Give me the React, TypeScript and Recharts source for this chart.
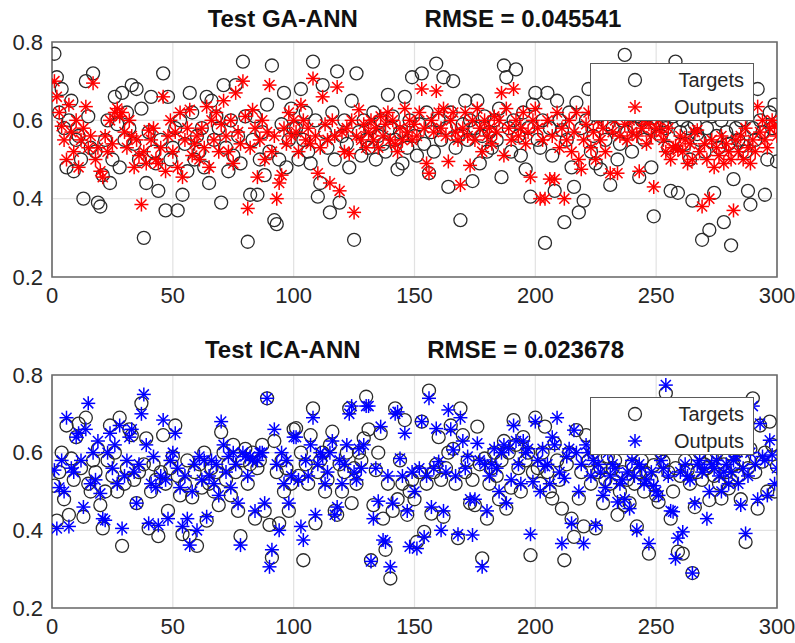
import React from 'react';
import { ScatterChart, Scatter, XAxis, YAxis, CartesianGrid, ReferenceArea, Legend } from 'recharts';

const xTicks = [0, 50, 100, 150, 200, 250, 300];
const yTicks = [0.2, 0.4, 0.6, 0.8];

const gaTitle = 'Test GA-ANN          RMSE = 0.045541';
const icaTitle = 'Test ICA-ANN          RMSE = 0.023678';

// GA-ANN test set
const gaTargets = [
  0.77, 0.71, 0.62, 0.68, 0.58, 0.48, 0.6, 0.65, 0.47, 0.55,
  0.56, 0.5, 0.4, 0.7, 0.61, 0.53, 0.72, 0.52, 0.39, 0.38,
  0.46, 0.55, 0.6, 0.44, 0.5, 0.66, 0.59, 0.48, 0.67, 0.55,
  0.62, 0.58, 0.69, 0.54, 0.68, 0.5, 0.63, 0.3, 0.44, 0.57,
  0.66, 0.52, 0.49, 0.42, 0.55, 0.72, 0.37, 0.66, 0.5, 0.53,
  0.58, 0.37, 0.6, 0.41, 0.54, 0.47, 0.67, 0.62, 0.5, 0.56,
  0.52, 0.58, 0.48, 0.66, 0.44, 0.65, 0.55, 0.61, 0.58, 0.39,
  0.69, 0.53, 0.47, 0.6, 0.51, 0.69, 0.56, 0.49, 0.75, 0.61,
  0.29, 0.41, 0.55, 0.61, 0.41, 0.5, 0.57, 0.46, 0.64, 0.52,
  0.74, 0.345, 0.335, 0.5, 0.59, 0.67, 0.48, 0.55, 0.63, 0.58,
  0.58, 0.5, 0.68, 0.55, 0.62, 0.52, 0.49, 0.75, 0.6, 0.405,
  0.44, 0.69, 0.57, 0.53, 0.365, 0.62, 0.5, 0.725, 0.39, 0.56,
  0.6, 0.54, 0.48, 0.65, 0.295, 0.72, 0.57, 0.51, 0.6, 0.55,
  0.53, 0.58, 0.62, 0.5, 0.56, 0.6, 0.54, 0.52, 0.665, 0.58,
  0.61, 0.55, 0.475, 0.57, 0.49, 0.66, 0.53, 0.6, 0.71, 0.56,
  0.51, 0.59, 0.72, 0.54, 0.62, 0.465, 0.57, 0.52, 0.745, 0.6,
  0.55, 0.71, 0.58, 0.43, 0.62, 0.7, 0.53, 0.56, 0.345, 0.59,
  0.65, 0.55, 0.6, 0.445, 0.58, 0.65, 0.49, 0.56, 0.61, 0.52,
  0.57, 0.53, 0.6, 0.55, 0.63, 0.455, 0.74, 0.71, 0.58, 0.52,
  0.6, 0.73, 0.56, 0.51, 0.62, 0.475, 0.58, 0.405, 0.64, 0.67,
  0.55, 0.53, 0.6, 0.287, 0.67, 0.58, 0.51, 0.42, 0.65, 0.6,
  0.575, 0.34, 0.55, 0.62, 0.48, 0.43, 0.645, 0.365, 0.58, 0.395,
  0.6, 0.68, 0.52, 0.56, 0.49, 0.61, 0.475, 0.63, 0.55, 0.59,
  0.435, 0.58, 0.62, 0.5, 0.54, 0.6, 0.767, 0.57, 0.63, 0.52,
  0.58, 0.61, 0.455, 0.6, 0.55, 0.63, 0.58, 0.48, 0.355, 0.59,
  0.62, 0.56, 0.6, 0.58, 0.53, 0.42, 0.61, 0.75, 0.415, 0.57,
  0.6, 0.54, 0.58, 0.5, 0.395, 0.59, 0.565, 0.55, 0.295, 0.52,
  0.58, 0.32, 0.61, 0.415, 0.56, 0.53, 0.6, 0.34, 0.57, 0.54,
  0.281, 0.45, 0.58, 0.55, 0.6, 0.535, 0.52, 0.42, 0.385, 0.58,
  0.55, 0.68, 0.6, 0.57, 0.41, 0.5, 0.62, 0.58, 0.64, 0.495,
];

const gaOutputs = [
  0.7, 0.66, 0.62, 0.585, 0.55, 0.5, 0.64, 0.57, 0.52, 0.6,
  0.48, 0.55, 0.58, 0.635, 0.53, 0.56, 0.695, 0.5, 0.53, 0.47,
  0.455, 0.56, 0.52, 0.6, 0.54, 0.62, 0.63, 0.61, 0.62, 0.57,
  0.53, 0.6, 0.56, 0.48, 0.55, 0.51, 0.385, 0.52, 0.49, 0.575,
  0.55, 0.58, 0.5, 0.49, 0.53, 0.66, 0.47, 0.56, 0.6, 0.52,
  0.57, 0.48, 0.62, 0.455, 0.55, 0.58, 0.627, 0.51, 0.54, 0.56,
  0.5, 0.58, 0.53, 0.635, 0.48, 0.6, 0.55, 0.62, 0.52, 0.59,
  0.65, 0.56, 0.52, 0.6, 0.49, 0.67, 0.57, 0.54, 0.7, 0.61,
  0.375, 0.53, 0.627, 0.58, 0.455, 0.55, 0.6, 0.5, 0.57, 0.69,
  0.52, 0.56, 0.4, 0.44, 0.46, 0.58, 0.54, 0.62, 0.56, 0.6,
  0.57, 0.52, 0.64, 0.6, 0.55, 0.58, 0.54, 0.707, 0.56, 0.465,
  0.53, 0.66, 0.59, 0.55, 0.44, 0.6, 0.56, 0.685, 0.42, 0.57,
  0.52, 0.58, 0.515, 0.6, 0.365, 0.56, 0.627, 0.55, 0.59, 0.53,
  0.57, 0.6, 0.55, 0.58, 0.53, 0.61, 0.56, 0.59, 0.62, 0.55,
  0.6, 0.54, 0.52, 0.58, 0.55, 0.63, 0.57, 0.6, 0.55, 0.59,
  0.56, 0.62, 0.68, 0.58, 0.49, 0.465, 0.6, 0.57, 0.675, 0.62,
  0.58, 0.63, 0.56, 0.495, 0.6, 0.62, 0.57, 0.55, 0.435, 0.58,
  0.62, 0.56, 0.485, 0.6, 0.55, 0.63, 0.58, 0.52, 0.6, 0.56,
  0.58, 0.54, 0.61, 0.57, 0.6, 0.67, 0.51, 0.63, 0.58, 0.55,
  0.68, 0.6, 0.56, 0.58, 0.62, 0.54, 0.57, 0.455, 0.6, 0.63,
  0.58, 0.4, 0.55, 0.4, 0.6, 0.45, 0.56, 0.45, 0.62, 0.53,
  0.58, 0.4, 0.55, 0.6, 0.52, 0.57, 0.62, 0.5, 0.475, 0.55,
  0.59, 0.62, 0.53, 0.57, 0.5, 0.6, 0.55, 0.58, 0.52, 0.61,
  0.465, 0.57, 0.6, 0.465, 0.56, 0.62, 0.59, 0.55, 0.6, 0.57,
  0.61, 0.56, 0.47, 0.58, 0.6, 0.54, 0.59, 0.56, 0.43, 0.58,
  0.6, 0.57, 0.55, 0.52, 0.58, 0.5, 0.53, 0.535, 0.525, 0.56,
  0.52, 0.55, 0.49, 0.54, 0.5, 0.57, 0.575, 0.52, 0.38, 0.54,
  0.5, 0.4, 0.55, 0.48, 0.53, 0.51, 0.56, 0.49, 0.54, 0.52,
  0.5, 0.37, 0.55, 0.52, 0.56, 0.5, 0.58, 0.53, 0.49, 0.55,
  0.52, 0.635, 0.57, 0.6, 0.55, 0.53, 0.58, 0.6, 0.585, 0.56,
];

// ICA-ANN test set
const icaTargets = [
  0.515, 0.425, 0.55, 0.6, 0.48, 0.67, 0.44, 0.585, 0.53, 0.64,
  0.675, 0.56, 0.435, 0.69, 0.52, 0.5, 0.58, 0.55, 0.61, 0.465,
  0.405, 0.5, 0.58, 0.67, 0.54, 0.6, 0.5, 0.69, 0.36, 0.52,
  0.56, 0.66, 0.645, 0.53, 0.47, 0.55, 0.727, 0.57, 0.637, 0.405,
  0.5, 0.57, 0.53, 0.385, 0.55, 0.645, 0.52, 0.45, 0.56, 0.59,
  0.67, 0.54, 0.49, 0.39, 0.52, 0.58, 0.385, 0.485, 0.55, 0.36,
  0.57, 0.51, 0.6, 0.425, 0.52, 0.56, 0.5, 0.55, 0.465, 0.653,
  0.6, 0.53, 0.57, 0.49, 0.62, 0.55, 0.45, 0.385, 0.58, 0.61,
  0.52, 0.57, 0.6, 0.43, 0.56, 0.58, 0.62, 0.45, 0.74, 0.414,
  0.33, 0.63, 0.55, 0.418, 0.58, 0.5, 0.56, 0.45, 0.52, 0.66,
  0.663, 0.54, 0.6, 0.323, 0.57, 0.52, 0.645, 0.714, 0.418, 0.55,
  0.58, 0.6, 0.5, 0.53, 0.62, 0.654, 0.45, 0.44, 0.57, 0.5,
  0.55, 0.6, 0.714, 0.47, 0.56, 0.52, 0.6, 0.58, 0.637, 0.744,
  0.66, 0.323, 0.465, 0.555, 0.6, 0.65, 0.43, 0.35, 0.52, 0.276,
  0.45, 0.714, 0.48, 0.58, 0.52, 0.684, 0.44, 0.5, 0.53, 0.48,
  0.37, 0.55, 0.68, 0.396, 0.52, 0.76, 0.443, 0.55, 0.57, 0.64,
  0.53, 0.435, 0.56, 0.6, 0.67, 0.61, 0.52, 0.38, 0.714, 0.645,
  0.55, 0.58, 0.47, 0.53, 0.465, 0.667, 0.57, 0.328, 0.585, 0.43,
  0.52, 0.56, 0.6, 0.54, 0.48, 0.58, 0.63, 0.456, 0.6, 0.51,
  0.684, 0.62, 0.56, 0.5, 0.64, 0.58, 0.6, 0.336, 0.55, 0.69,
  0.56, 0.52, 0.6, 0.667, 0.55, 0.5, 0.482, 0.624, 0.58, 0.53,
  0.456, 0.323, 0.57, 0.6, 0.43, 0.383, 0.658, 0.482, 0.55, 0.41,
  0.645, 0.58, 0.52, 0.6, 0.405, 0.55, 0.56, 0.47, 0.53, 0.59,
  0.52, 0.56, 0.58, 0.44, 0.5, 0.55, 0.465, 0.53, 0.47, 0.57,
  0.52, 0.41, 0.55, 0.58, 0.5, 0.547, 0.34, 0.53, 0.568, 0.49,
  0.473, 0.6, 0.577, 0.753, 0.55, 0.43, 0.5, 0.56, 0.345, 0.54,
  0.34, 0.58, 0.555, 0.52, 0.29, 0.46, 0.55, 0.6, 0.53, 0.57,
  0.56, 0.478, 0.59, 0.54, 0.6, 0.52, 0.482, 0.57, 0.55, 0.508,
  0.53, 0.568, 0.6, 0.54, 0.48, 0.58, 0.37, 0.56, 0.61, 0.74,
  0.55, 0.456, 0.67, 0.577, 0.6, 0.5, 0.68, 0.62, 0.5, 0.565,
];

const icaOutputs = [
  0.555, 0.405, 0.51, 0.58, 0.5, 0.69, 0.41, 0.56, 0.55, 0.64,
  0.65, 0.58, 0.46, 0.66, 0.727, 0.52, 0.6, 0.53, 0.63, 0.495,
  0.43, 0.426, 0.6, 0.65, 0.56, 0.62, 0.52, 0.67, 0.405, 0.54,
  0.58, 0.64, 0.66, 0.55, 0.47, 0.57, 0.7, 0.75, 0.62, 0.418,
  0.52, 0.59, 0.51, 0.413, 0.54, 0.684, 0.53, 0.43, 0.58, 0.6,
  0.65, 0.56, 0.51, 0.41, 0.54, 0.43, 0.362, 0.5, 0.57, 0.4,
  0.59, 0.53, 0.58, 0.435, 0.54, 0.58, 0.52, 0.57, 0.49, 0.68,
  0.62, 0.55, 0.59, 0.51, 0.6, 0.57, 0.47, 0.362, 0.6, 0.59,
  0.54, 0.59, 0.58, 0.45, 0.58, 0.6, 0.6, 0.47, 0.74, 0.306,
  0.35, 0.66, 0.57, 0.4, 0.6, 0.52, 0.58, 0.47, 0.54, 0.64,
  0.64, 0.53, 0.41, 0.375, 0.58, 0.54, 0.62, 0.69, 0.44, 0.57,
  0.6, 0.59, 0.52, 0.55, 0.6, 0.63, 0.44, 0.46, 0.58, 0.52,
  0.57, 0.62, 0.7, 0.72, 0.55, 0.53, 0.61, 0.56, 0.62, 0.72,
  0.72, 0.32, 0.43, 0.56, 0.475, 0.667, 0.375, 0.37, 0.54, 0.306,
  0.47, 0.7, 0.705, 0.585, 0.54, 0.65, 0.45, 0.358, 0.55, 0.5,
  0.353, 0.56, 0.68, 0.383, 0.54, 0.74, 0.46, 0.56, 0.662, 0.577,
  0.4, 0.45, 0.55, 0.71, 0.66, 0.607, 0.54, 0.39, 0.69, 0.63,
  0.56, 0.59, 0.48, 0.388, 0.48, 0.624, 0.58, 0.306, 0.57, 0.45,
  0.54, 0.57, 0.61, 0.56, 0.5, 0.6, 0.62, 0.47, 0.61, 0.53,
  0.67, 0.63, 0.57, 0.52, 0.63, 0.6, 0.61, 0.39, 0.525, 0.68,
  0.58, 0.5, 0.61, 0.565, 0.57, 0.52, 0.64, 0.62, 0.69, 0.55,
  0.366, 0.534, 0.59, 0.61, 0.418, 0.658, 0.6, 0.5, 0.57, 0.366,
  0.62, 0.6, 0.54, 0.58, 0.413, 0.57, 0.55, 0.49, 0.51, 0.6,
  0.54, 0.57, 0.56, 0.473, 0.52, 0.53, 0.48, 0.55, 0.456, 0.58,
  0.54, 0.4, 0.57, 0.56, 0.52, 0.53, 0.366, 0.55, 0.515, 0.5,
  0.49, 0.58, 0.56, 0.774, 0.54, 0.45, 0.448, 0.327, 0.38, 0.55,
  0.396, 0.57, 0.54, 0.53, 0.29, 0.47, 0.57, 0.58, 0.55, 0.56,
  0.43, 0.5, 0.57, 0.56, 0.58, 0.54, 0.5, 0.55, 0.57, 0.52,
  0.55, 0.58, 0.59, 0.52, 0.465, 0.56, 0.392, 0.54, 0.6, 0.72,
  0.57, 0.48, 0.675, 0.59, 0.58, 0.49, 0.632, 0.594, 0.52, 0.56,
];

const FONT = '"Liberation Sans", Arial, Helvetica, sans-serif';
const TICK = { fill: '#262626', fontSize: 22, fontFamily: FONT };

const toPoints = (values: number[]) => values.map((y, i) => ({ x: i + 1, y }));

const CircleMarker = (props: any) => {
  const { cx, cy } = props;
  if (cx == null || cy == null) return null;
  return <circle cx={cx} cy={cy} r={6.5} fill="none" stroke="#2b2b2b" strokeWidth={1.3} />;
};

const Star = ({ cx, cy, color }: { cx: number; cy: number; color: string }) => {
  const r = 7;
  const d = r * 0.72;
  return (
    <g stroke={color} strokeWidth={1.5}>
      <line x1={cx - r} y1={cy} x2={cx + r} y2={cy} />
      <line x1={cx} y1={cy - r} x2={cx} y2={cy + r} />
      <line x1={cx - d} y1={cy - d} x2={cx + d} y2={cy + d} />
      <line x1={cx - d} y1={cy + d} x2={cx + d} y2={cy - d} />
    </g>
  );
};

const LegendBox = ({ color }: { color: string }) => (
  <div
    style={{
      width: 164,
      height: 58,
      border: '1.5px solid #5a5a5a',
      background: '#fff',
      boxSizing: 'border-box',
    }}
  >
    <svg width={161} height={55} style={{ display: 'block' }}>
      <circle cx={44} cy={16} r={6.5} fill="none" stroke="#2b2b2b" strokeWidth={1.3} />
      <Star cx={44} cy={43} color={color} />
      <text x={153} y={16} textAnchor="end" dominantBaseline="central" fontSize={20} fontFamily={FONT} fill="#262626">
        Targets
      </text>
      <text x={153} y={43} textAnchor="end" dominantBaseline="central" fontSize={20} fontFamily={FONT} fill="#262626">
        Outputs
      </text>
    </svg>
  </div>
);

interface PanelProps {
  top: number;
  height: number;
  title: string;
  titleY: number;
  targets: number[];
  outputs: number[];
  color: string;
  marginTop: number;
  marginBottom: number;
  legendTop: number;
}

const Panel: React.FC<PanelProps> = ({ top, height, title, titleY, targets, outputs, color, marginTop, marginBottom, legendTop }) => (
  <div style={{ position: 'absolute', left: 0, top, width: 795, height }}>
    <div
      style={{
        position: 'absolute',
        left: 0,
        width: 829,
        top: titleY - 14,
        textAlign: 'center',
        whiteSpace: 'pre',
        fontFamily: FONT,
        fontWeight: 'bold',
        fontSize: 24,
        lineHeight: '28px',
        color: '#111',
      }}
    >
      {title}
    </div>
    <ScatterChart width={795} height={height} margin={{ top: marginTop, right: 18, bottom: marginBottom, left: 0 }}>
      <CartesianGrid stroke="#e2e2e2" strokeWidth={1.2} />
      <XAxis
        type="number"
        dataKey="x"
        domain={[0, 300]}
        ticks={xTicks}
        height={30}
        axisLine={false}
        tickLine={false}
        tickSize={0}
        tickMargin={10}
        tick={TICK}
        allowDataOverflow
      />
      <YAxis
        type="number"
        dataKey="y"
        domain={[0.2, 0.8]}
        ticks={yTicks}
        width={52}
        axisLine={false}
        tickLine={false}
        tickSize={0}
        tickMargin={9}
        tick={TICK}
        tickFormatter={(v: number) => v.toFixed(1)}
        allowDataOverflow
      />
      <ReferenceArea x1={0} x2={300} y1={0.2} y2={0.8} fill="none" stroke="#6a6a6a" strokeWidth={1.6} />
      <Scatter name="Targets" data={toPoints(targets)} shape={CircleMarker} isAnimationActive={false} />
      <Scatter
        name="Outputs"
        data={toPoints(outputs)}
        shape={(p: any) => <Star cx={p.cx} cy={p.cy} color={color} />}
        isAnimationActive={false}
      />
      <Legend
        layout="vertical"
        align="center"
        verticalAlign="middle"
        content={() => <LegendBox color={color} />}
        wrapperStyle={{ left: 590, top: legendTop, width: 164, height: 58 }}
      />
    </ScatterChart>
  </div>
);

export default function App() {
  return (
    <div style={{ position: 'absolute', left: 0, top: 0, width: 795, height: 643, background: '#fff', overflow: 'hidden' }}>
      <Panel
        top={0}
        height={322}
        title={gaTitle}
        titleY={19}
        targets={gaTargets}
        outputs={gaOutputs}
        color="#ff0000"
        marginTop={42}
        marginBottom={15}
        legendTop={63}
      />
      <Panel
        top={322}
        height={321}
        title={icaTitle}
        titleY={28}
        targets={icaTargets}
        outputs={icaOutputs}
        color="#0000ff"
        marginTop={53}
        marginBottom={5}
        legendTop={75}
      />
    </div>
  );
}
